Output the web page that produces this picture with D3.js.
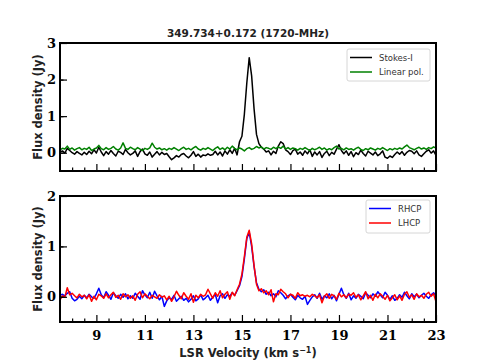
<!DOCTYPE html>
<html>
<head>
<meta charset="utf-8">
<title>349.734+0.172 (1720-MHz)</title>
<script src="https://d3js.org/d3.v7.min.js"></script>
<style type="text/css">
	body{ margin:0; background:white; }
	.spine{ fill:none; stroke:black; stroke-width:2; }
	.tick line{ stroke:black; stroke-width:1.2; }
	.ticklabel{ font-family:"DejaVu Serif", serif; font-weight:bold; font-size:13px; fill:black; }
	.axlabel{ font-family:"DejaVu Sans", sans-serif; font-weight:bold; font-size:11.5px; fill:#222; }
	.title{ font-family:"DejaVu Sans", sans-serif; font-weight:bold; font-size:10.5px; fill:#222; }
	.legtext{ font-family:"DejaVu Sans", sans-serif; font-size:8.5px; fill:#333; }
	.spec{ fill:none; stroke-width:1.5; stroke-linejoin:round; }
</style>
</head>
<body>
<svg id="chart" width="484" height="363"></svg>
<script>
// velocity channels (km/s), 0.1 km/s spacing
var velocity = d3.range(156).map(function(i){ return +(7.5 + 0.1*i).toFixed(1); });

var stokesI = [
 0.02, 0.05,-0.01, 0.12, 0.06, 0.00,-0.04, 0.03,-0.02,-0.06,
 0.01,-0.05, 0.04,-0.03, 0.08,-0.01, 0.15, 0.02,-0.08, 0.03,
-0.04, 0.06,-0.02,-0.09, 0.04, 0.01,-0.05, 0.09, 0.00,-0.06,
-0.02, 0.05,-0.10, 0.03, 0.10,-0.03,-0.07, 0.02,-0.12,-0.04,
 0.03,-0.06, 0.01,-0.05,-0.02,-0.11,-0.19,-0.14,-0.08,-0.12,
-0.05,-0.02,-0.09,-0.14,-0.07, 0.03,-0.10,-0.04,-0.12,-0.06,
-0.08,-0.03,-0.07,-0.05, 0.04,-0.06, 0.02,-0.09, 0.05,-0.04,
 0.08,-0.02, 0.12,-0.06, 0.30, 0.45, 1.05, 1.90, 2.60, 2.10,
 1.20, 0.50, 0.25, 0.15, 0.10, 0.02, 0.05,-0.06, 0.04,-0.02,
 0.18, 0.30, 0.25, 0.08, 0.03,-0.05, 0.06, 0.10,-0.04, 0.02,
-0.07, 0.05,-0.03, 0.08,-0.10, 0.02,-0.06, 0.03,-0.13,-0.02,
 0.04,-0.08, 0.01,-0.04, 0.10, 0.22, 0.06,-0.03, 0.05,-0.07,
 0.03,-0.11, 0.00,-0.05, 0.07,-0.02,-0.09, 0.04,-0.01,-0.06,
 0.02,-0.08,-0.03, 0.05,-0.12,-0.15,-0.09,-0.13,-0.05, 0.02,
-0.04, 0.03,-0.07, 0.01, 0.06, 0.04,-0.03, 0.05,-0.06,-0.10,
-0.03, 0.04, 0.08,-0.01, 0.05,-0.07];

var linearPol = [
 0.08, 0.12, 0.10, 0.18, 0.09, 0.13, 0.07, 0.11, 0.14, 0.08,
 0.12, 0.09, 0.15, 0.06, 0.10, 0.13, 0.20, 0.11, 0.08, 0.14,
 0.09, 0.12, 0.17, 0.10, 0.07, 0.13, 0.27, 0.12, 0.09, 0.15,
 0.11, 0.08, 0.14, 0.10, 0.06, 0.12, 0.09, 0.13, 0.26, 0.15,
 0.10, 0.13, 0.08, 0.11, 0.07, 0.12, 0.09, 0.14, 0.10, 0.06,
 0.11, 0.15, 0.09, 0.12, 0.08, 0.13, 0.17, 0.10, 0.07, 0.12,
 0.09, 0.14, 0.10, 0.06, 0.12, 0.16, 0.09, 0.13, 0.08, 0.15,
 0.10, 0.18, 0.12, 0.08, 0.13, 0.10, 0.05, 0.11, 0.14, 0.09,
 0.12, 0.17, 0.13, 0.16, 0.10, 0.14, 0.12, 0.09, 0.15, 0.11,
 0.16, 0.12, 0.18, 0.10, 0.14, 0.09, 0.13, 0.11, 0.07, 0.12,
 0.09, 0.14, 0.10, 0.06, 0.12, 0.08, 0.11, 0.15, 0.09, 0.13,
 0.07, 0.11, 0.08, 0.14, 0.18, 0.10, 0.12, 0.08, 0.13, 0.09,
 0.11, 0.07, 0.12, 0.15, 0.09, 0.06, 0.11, 0.08, 0.13, 0.10,
 0.07, 0.12, 0.09, 0.14, 0.10, 0.06, 0.11, 0.08, 0.12, 0.09,
 0.13, 0.10, 0.16, 0.21, 0.14, 0.11, 0.08, 0.12, 0.15, 0.10,
 0.13, 0.09, 0.14, 0.11, 0.16, 0.13];

var rhcp = [
 0.03, 0.05, 0.02, 0.07, 0.10,-0.03,-0.08,-0.05, 0.01,-0.04,
 0.03,-0.02, 0.05, 0.00,-0.03, 0.06, 0.17, 0.04,-0.02, 0.10,
 0.03,-0.05, 0.08, 0.02,-0.03, 0.05,-0.01, 0.06,-0.04, 0.02,
-0.03, 0.07, 0.01,-0.05, 0.12, 0.04,-0.02, 0.09,-0.03, 0.11,
 0.02,-0.06, 0.01,-0.19,-0.08,-0.02,-0.05, 0.03,-0.09,-0.04,
 0.01,-0.07,-0.03,-0.10,-0.05, 0.02,-0.08,-0.04, 0.04,-0.06,
-0.02, 0.03,-0.07,-0.01, 0.05,-0.12, 0.02, 0.06,-0.03, 0.04,
 0.01, 0.08, 0.03, 0.12, 0.22, 0.40, 0.75, 1.15, 1.28, 1.00,
 0.60, 0.28, 0.15, 0.10, 0.14, 0.05, 0.09, 0.02, 0.06, 0.00,
 0.12, 0.08, 0.03,-0.04, 0.02, 0.05,-0.01,-0.06, 0.03,-0.02,
-0.05, 0.01,-0.15,-0.07, 0.00, 0.04,-0.03, 0.07,-0.05, 0.02,
-0.02, 0.06,-0.04, 0.03,-0.08, 0.05, 0.17, 0.04,-0.03, 0.07,
-0.06, 0.02,-0.03, 0.05, 0.01,-0.04, 0.08, 0.03,-0.02, 0.06,
 0.01, 0.10, 0.04,-0.02, 0.09, 0.03,-0.05, 0.02,-0.07,-0.03,
 0.04,-0.01, 0.09, 0.02,-0.04, 0.06, 0.00, 0.05,-0.02, 0.03,
 0.07, 0.01,-0.03, 0.04, 0.08, 0.02];

var lhcp = [
-0.06, 0.02,-0.01, 0.18, 0.04, 0.07, 0.02,-0.02, 0.05, 0.00,
 0.03,-0.04, 0.04,-0.09, 0.01,-0.06, 0.05, 0.02,-0.03, 0.06,
-0.02, 0.04, 0.09,-0.01, 0.03,-0.05, 0.06, 0.00, 0.04,-0.03,
 0.02,-0.07, 0.05, 0.10,-0.02, 0.06, 0.01,-0.04, 0.03, 0.00,
-0.03, 0.04,-0.01, 0.02,-0.06, 0.01,-0.09, 0.00, 0.11, 0.03,
-0.04, 0.08, 0.01,-0.05, 0.06,-0.11, 0.03,-0.02, 0.05, 0.01,
 0.04, 0.15, 0.06,-0.03, 0.08, 0.01, 0.12,-0.02, 0.05, 0.10,
-0.05, 0.09, 0.02, 0.14, 0.25, 0.45, 0.80, 1.18, 1.32, 1.05,
 0.62, 0.25, 0.12, 0.16, 0.08, 0.12, 0.04, 0.14,-0.10, 0.06,
 0.04, 0.15, 0.10, 0.06,-0.02, 0.05, 0.03,-0.03, 0.08, 0.02,
 0.04, 0.01, 0.03, 0.00, 0.05, 0.02,-0.02, 0.04,-0.12, 0.01,
 0.06,-0.03, 0.05, 0.02,-0.05, 0.07, 0.00, 0.04,-0.02, 0.05,
 0.03, 0.08,-0.01, 0.04,-0.06, 0.02, 0.10,-0.04, 0.03,-0.07,
 0.05,-0.02, 0.06, 0.01,-0.05, 0.03,-0.08,-0.02, 0.04,-0.06,
 0.02,-0.07, 0.05, 0.10,-0.01, 0.04,-0.05, 0.06, 0.00, 0.03,
-0.03, 0.05, 0.09, 0.01, 0.06,-0.10];

var xTickLabels = [9, 11, 13, 15, 17, 19, 21, 23];

var svg = d3.select("#chart");
var left = 60, right = 436;
var x = d3.scaleLinear().domain([7.5, 23]).range([left, right]);

var panels = [
	{ top:43, bottom:171, ymax:3, yticks:[0,1,2,3], labels:false,
	  series:[ {name:"Stokes-I", data:stokesI, color:"black"},
	           {name:"Linear pol.", data:linearPol, color:"#008000"} ],
	  legend:{x:347, y:49, w:83, h:32} },
	{ top:196, bottom:322, ymax:2, yticks:[0,1,2], labels:true,
	  series:[ {name:"RHCP", data:rhcp, color:"#0000ff"},
	           {name:"LHCP", data:lhcp, color:"#ff0000"} ],
	  legend:{x:366, y:200, w:64, h:33} }
];

panels.forEach(function(p, k){
	var y = d3.scaleLinear().domain([-0.5, p.ymax]).range([p.bottom, p.top]);
	var g = svg.append("g");

	g.append("clipPath").attr("id", "clip"+k)
		.append("rect").attr("x", left).attr("y", p.top)
		.attr("width", right-left).attr("height", p.bottom-p.top);

	var line = d3.line().x(function(d, i){ return x(velocity[i]); })
		.y(function(d){ return y(d); });

	p.series.forEach(function(s){
		g.append("path").datum(s.data)
			.attr("class", "spec")
			.attr("clip-path", "url(#clip"+k+")")
			.attr("stroke", s.color)
			.attr("d", line);
	});

	// x ticks (inward), minor every 0.5, major every 2
	var minorX = d3.range(8, 23, 0.5).filter(function(v){ return (v-9) % 2 !== 0; });
	g.append("g").attr("transform", "translate(0,"+p.bottom+")")
		.call(d3.axisBottom(x).tickValues(minorX).tickSize(-3.5).tickFormat(""))
		.call(function(a){ a.select(".domain").remove(); });
	var majorX = g.append("g").attr("transform", "translate(0,"+p.bottom+")")
		.call(d3.axisBottom(x).tickValues(xTickLabels).tickSize(-7)
			.tickFormat(p.labels ? d3.format("d") : ""));
	majorX.select(".domain").remove();
	majorX.selectAll("text").attr("class", "ticklabel").attr("font-family", null)
		.attr("font-size", null).attr("y", 9).attr("fill", null);

	// y ticks
	var minorY = d3.range(-0.5, p.ymax, 1).map(function(v){ return v+1; })
		.filter(function(v){ return v < p.ymax; }).map(function(v){ return v-0.5; });
	g.append("g").attr("transform", "translate("+left+",0)")
		.call(d3.axisLeft(y).tickValues(minorY).tickSize(-3.5).tickFormat(""))
		.call(function(a){ a.select(".domain").remove(); });
	var majorY = g.append("g").attr("transform", "translate("+left+",0)")
		.call(d3.axisLeft(y).tickValues(p.yticks).tickSize(-7).tickFormat(d3.format("d")));
	majorY.select(".domain").remove();
	majorY.selectAll("text").attr("class", "ticklabel").attr("font-family", null)
		.attr("font-size", null).attr("x", -4).attr("fill", null);

	g.append("rect").attr("class", "spine")
		.attr("x", left).attr("y", p.top)
		.attr("width", right-left).attr("height", p.bottom-p.top);

	// legend
	var L = p.legend;
	g.append("rect").attr("x", L.x).attr("y", L.y).attr("width", L.w).attr("height", L.h)
		.attr("rx", 2).attr("fill", "white").attr("fill-opacity", 0.85)
		.attr("stroke", "#cccccc").attr("stroke-width", 0.8);
	p.series.forEach(function(s, j){
		var ly = L.y + 8.5 + j*14.5;
		g.append("line").attr("x1", L.x+3).attr("x2", L.x+25)
			.attr("y1", ly).attr("y2", ly)
			.attr("stroke", s.color).attr("stroke-width", 1.5);
		g.append("text").attr("class", "legtext")
			.attr("x", L.x+32).attr("y", ly+3).text(s.name);
	});

	g.append("text").attr("class", "axlabel")
		.attr("transform", "translate(42,"+((p.top+p.bottom)/2)+") rotate(-90)")
		.attr("text-anchor", "middle").text("Flux density (Jy)");
});

svg.append("text").attr("class", "title")
	.attr("x", 248).attr("y", 37).attr("text-anchor", "middle")
	.text("349.734+0.172 (1720-MHz)");

var xl = svg.append("text").attr("class", "axlabel")
	.attr("x", 248).attr("y", 357).attr("text-anchor", "middle");
xl.append("tspan").text("LSR Velocity (km s");
xl.append("tspan").attr("dy", -4).attr("font-size", "8px").text("\u22121");
xl.append("tspan").attr("dy", 4).text(")");
</script>
</body>
</html>
